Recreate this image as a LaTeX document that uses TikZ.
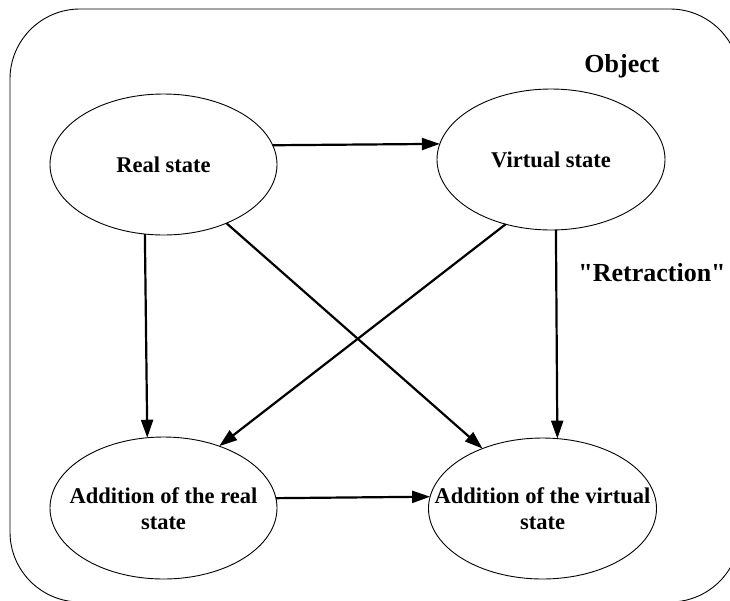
\documentclass[tikz,border=0pt]{standalone}
\usepackage{fontspec}
\setmainfont{Liberation Serif}[Ligatures=TeXOff]
\usetikzlibrary{shapes.geometric,arrows.meta}
\begin{document}
\begin{tikzpicture}[x=1pt,y=-1pt,
  stateell/.style={ellipse,draw,line width=0.9pt,inner sep=0pt,outer sep=0pt},
  statetxt/.style={font=\fontsize{22.5}{26}\selectfont\bfseries,align=center,inner sep=0pt},
  lbl/.style={font=\fontsize{26}{30}\selectfont\bfseries,inner sep=0pt,anchor=base},
  conn/.style={line width=2.2pt,-{Triangle[length=18pt,width=12pt]}}]
\useasboundingbox (0,0) rectangle (730,600);
\begin{scope}
\clip (0,0) rectangle (730,600);
\draw[line width=0.9pt,rounded corners=70pt] (10,9) rectangle (740,602);
\end{scope}
\node[stateell,minimum width=227pt,minimum height=141pt] (rs) at (163.5,164.5) {};
\node[stateell,minimum width=228pt,minimum height=141pt] (vs) at (551,159.5) {};
\node[stateell,minimum width=227pt,minimum height=142pt] (ar) at (163.5,508) {};
\node[stateell,minimum width=228pt,minimum height=141pt] (av) at (542.5,508.5) {};
\node[statetxt] (rst) at (163.5,165) {Real state};
\node[statetxt] (vst) at (551,160) {Virtual state};
\node[statetxt] (art) at (163.5,509) {Addition of the real\\state};
\node[statetxt] (avt) at (542.5,509) {Addition of the virtual\\state};
\node[lbl] (obj) at (622,72) {Object};
\node[lbl] (retr) at (652,281) {"Retraction"};
\draw[conn] (rs.10) -- (vs.172.75);
\draw[conn] (rs.255.3) -- (ar.103.1);
\draw[conn] (rs.317.35) -- (av.135);
\draw[conn] (vs.235.7) -- (ar.48.7);
\draw[conn] (vs.274.9) -- (av.78.5);
\draw[conn] (ar.5.5) -- (av.174.3);
\end{tikzpicture}
\end{document}
